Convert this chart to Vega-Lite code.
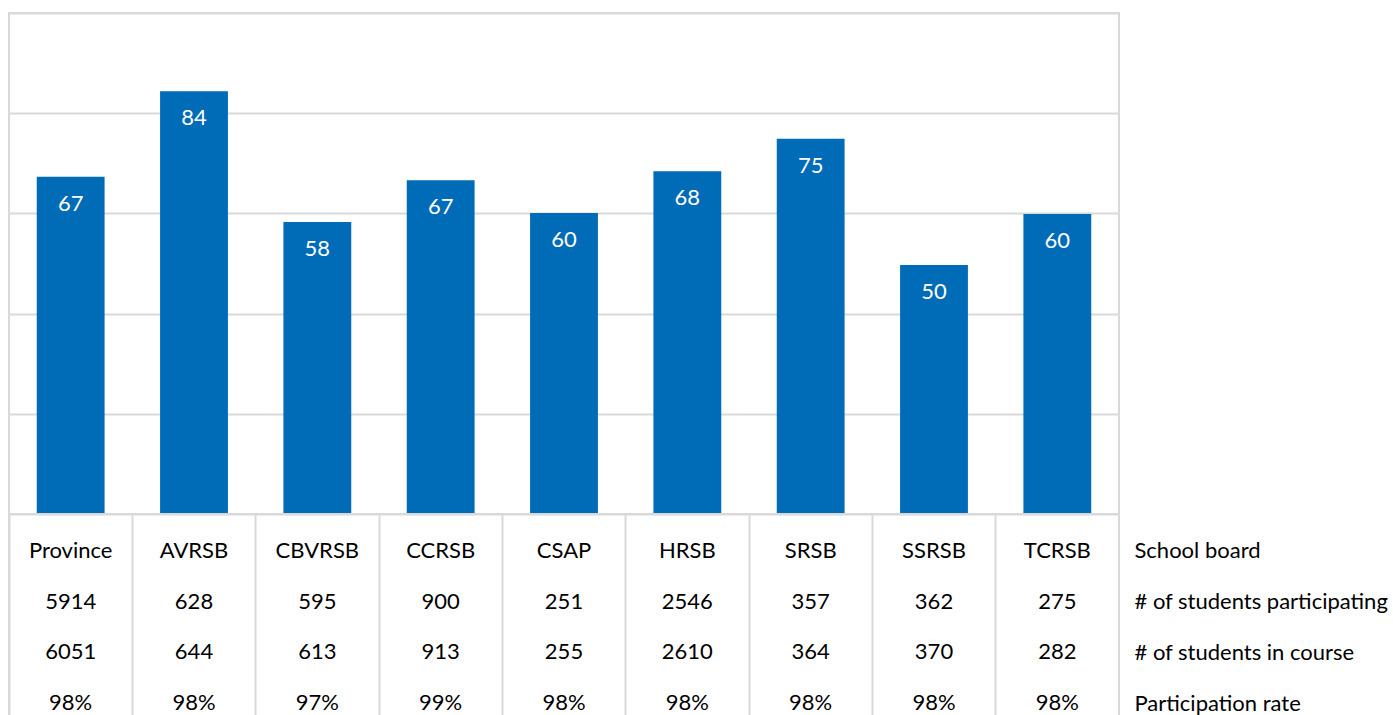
{
  "$schema": "https://vega.github.io/schema/vega-lite/v6.json",
  "padding": {"left": 8, "top": 12, "right": 0, "bottom": 0},
  "autosize": {"type": "pad"},
  "spacing": 0,
  "bounds": "flush",
  "config": {
    "view": {"stroke": "#d9d9d9", "strokeWidth": 2},
    "font": "Lato",
    "axis": {"minExtent": 0}
  },
  "datasets": {
    "boards": [
      {"board": "Province", "score": 67.3},
      {"board": "AVRSB", "score": 84.4},
      {"board": "CBVRSB", "score": 58.3},
      {"board": "CCRSB", "score": 66.6},
      {"board": "CSAP", "score": 60.1},
      {"board": "HRSB", "score": 68.4},
      {"board": "SRSB", "score": 74.9},
      {"board": "SSRSB", "score": 49.7},
      {"board": "TCRSB", "score": 59.9}
    ],
    "table": [
      {"board": "Province", "metric": "School board", "value": "Province"},
      {"board": "AVRSB", "metric": "School board", "value": "AVRSB"},
      {"board": "CBVRSB", "metric": "School board", "value": "CBVRSB"},
      {"board": "CCRSB", "metric": "School board", "value": "CCRSB"},
      {"board": "CSAP", "metric": "School board", "value": "CSAP"},
      {"board": "HRSB", "metric": "School board", "value": "HRSB"},
      {"board": "SRSB", "metric": "School board", "value": "SRSB"},
      {"board": "SSRSB", "metric": "School board", "value": "SSRSB"},
      {"board": "TCRSB", "metric": "School board", "value": "TCRSB"},
      {"board": "Province", "metric": "# of students participating", "value": "5914"},
      {"board": "AVRSB", "metric": "# of students participating", "value": "628"},
      {"board": "CBVRSB", "metric": "# of students participating", "value": "595"},
      {"board": "CCRSB", "metric": "# of students participating", "value": "900"},
      {"board": "CSAP", "metric": "# of students participating", "value": "251"},
      {"board": "HRSB", "metric": "# of students participating", "value": "2546"},
      {"board": "SRSB", "metric": "# of students participating", "value": "357"},
      {"board": "SSRSB", "metric": "# of students participating", "value": "362"},
      {"board": "TCRSB", "metric": "# of students participating", "value": "275"},
      {"board": "Province", "metric": "# of students in course", "value": "6051"},
      {"board": "AVRSB", "metric": "# of students in course", "value": "644"},
      {"board": "CBVRSB", "metric": "# of students in course", "value": "613"},
      {"board": "CCRSB", "metric": "# of students in course", "value": "913"},
      {"board": "CSAP", "metric": "# of students in course", "value": "255"},
      {"board": "HRSB", "metric": "# of students in course", "value": "2610"},
      {"board": "SRSB", "metric": "# of students in course", "value": "364"},
      {"board": "SSRSB", "metric": "# of students in course", "value": "370"},
      {"board": "TCRSB", "metric": "# of students in course", "value": "282"},
      {"board": "Province", "metric": "Participation rate", "value": "98%"},
      {"board": "AVRSB", "metric": "Participation rate", "value": "98%"},
      {"board": "CBVRSB", "metric": "Participation rate", "value": "97%"},
      {"board": "CCRSB", "metric": "Participation rate", "value": "99%"},
      {"board": "CSAP", "metric": "Participation rate", "value": "98%"},
      {"board": "HRSB", "metric": "Participation rate", "value": "98%"},
      {"board": "SRSB", "metric": "Participation rate", "value": "98%"},
      {"board": "SSRSB", "metric": "Participation rate", "value": "98%"},
      {"board": "TCRSB", "metric": "Participation rate", "value": "98%"}
    ]
  },
  "vconcat": [
    {
      "width": 1110,
      "height": 501,
      "data": {"name": "boards"},
      "encoding": {
        "x": {"field": "board", "type": "nominal", "sort": null,
              "scale": {"type": "band", "paddingInner": 0.45, "paddingOuter": 0.225}, "axis": null},
        "y": {"field": "score", "type": "quantitative", "scale": {"domain": [0, 100]},
              "axis": {"values": [0, 20, 40, 60, 80, 100], "labels": false, "ticks": false, "domain": false,
                       "title": null, "gridColor": "#d9d9d9", "gridWidth": 2}}
      },
      "layer": [
        {"mark": {"type": "bar", "color": "#006BB6"}},
        {"mark": {"type": "text", "color": "white", "fontSize": 22, "baseline": "middle", "dy": 27},
         "encoding": {"text": {"field": "score", "type": "quantitative", "format": ".0f"}}}
      ]
    },
    {
      "width": 1110,
      "height": 226,
      "data": {"name": "table"},
      "mark": {"type": "text", "fontSize": 22, "color": "black", "baseline": "middle"},
      "encoding": {
        "x": {"field": "board", "type": "nominal",
              "sort": ["Province", "AVRSB", "CBVRSB", "CCRSB", "CSAP", "HRSB", "SRSB", "SSRSB", "TCRSB"],
              "scale": {"type": "band", "paddingInner": 0, "paddingOuter": 0},
              "axis": {"bandPosition": 0, "grid": true, "labels": false, "ticks": false, "domain": false,
                       "title": null, "gridColor": "#d9d9d9", "gridWidth": 2}},
        "y": {"field": "metric", "type": "nominal",
              "sort": ["School board", "# of students participating", "# of students in course", "Participation rate"],
              "scale": {"type": "point", "padding": 0.73},
              "axis": {"orient": "right", "ticks": false, "domain": false, "grid": false, "labelAlign": "left",
                       "labelPadding": 15, "labelFontSize": 22, "labelColor": "black", "labelLimit": 0, "title": null}},
        "text": {"field": "value", "type": "nominal"}
      }
    }
  ]
}
